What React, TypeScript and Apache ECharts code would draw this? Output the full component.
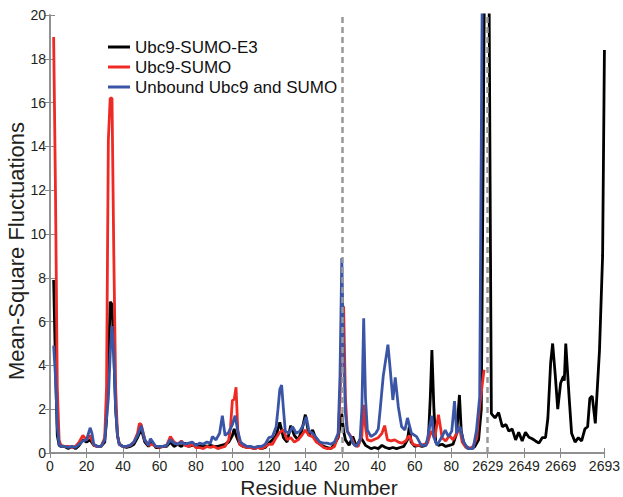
import React, { useEffect, useRef } from "react";
import * as echarts from "echarts";

// x positions are concatenated residue indices (Ubc9 0-158, SUMO 160-238, E3 240-304)
const xTickPositions = [0, 20, 40, 60, 80, 100, 120, 140, 160, 180, 200, 220, 240, 260, 280, 304];
const xTickLabels = ["0", "20", "40", "60", "80", "100", "120", "140", "20", "40", "60", "80", "2629", "2649", "2669", "2693"];
const dividerPositions = [160, 240];
const seriesNames = ["Ubc9-SUMO-E3", "Ubc9-SUMO", "Unbound Ubc9 and SUMO"];

const e3Data = [
  [2, 7.9], [3, 4], [4, 0.8], [5, 0.35], [6, 0.3], [8, 0.3], [10, 0.2], [12, 0.3], [14, 0.2], [16, 0.35],
  [18, 0.6], [20, 0.5], [22, 0.6], [24, 0.35], [26, 0.3], [28, 0.3], [30, 0.5], [31, 1.5], [32, 4.0], [33, 6.9],
  [34, 6.8], [35, 4.5], [36, 2.0], [37, 0.8], [38, 0.4], [40, 0.3], [42, 0.25], [44, 0.3], [46, 0.4], [48, 0.7],
  [50, 1.1], [52, 0.5], [54, 0.3], [56, 0.5], [58, 0.25], [60, 0.25], [62, 0.3], [64, 0.3], [66, 0.5], [68, 0.3],
  [70, 0.4], [72, 0.3], [74, 0.45], [76, 0.3], [78, 0.35], [80, 0.4], [82, 0.3], [84, 0.35], [86, 0.3], [88, 0.35],
  [90, 0.3], [92, 0.3], [94, 0.35], [96, 0.4], [98, 0.5], [100, 0.8], [101, 1.1], [102, 0.8], [104, 0.4], [106, 0.3],
  [108, 0.25], [110, 0.25], [112, 0.2], [114, 0.25], [116, 0.2], [118, 0.25], [120, 0.45], [122, 0.6], [124, 0.8], [126, 1.4],
  [128, 0.7], [130, 0.5], [132, 1.25], [134, 0.8], [136, 0.6], [138, 1.0], [140, 1.75], [142, 0.8], [144, 1.05], [146, 0.6],
  [148, 0.4], [150, 0.3], [152, 0.25], [154, 0.2], [156, 0.4], [158, 0.7], [159, 1.2], [160, 1.8], [161, 1.0], [162, 0.6],
  [164, 0.35], [166, 0.75], [168, 0.3], [170.5, 0.7], [173, 0.35], [176, 0.2], [178, 0.25], [180, 0.2], [182, 0.35], [184, 0.25],
  [186, 0.2], [188, 0.25], [190, 0.2], [192, 0.25], [194, 0.3], [196, 0.6], [197, 1.2], [198, 0.5], [200, 0.3], [202, 0.35],
  [204, 0.3], [206, 0.35], [207.5, 0.7], [208.5, 2.5], [209.4, 4.7], [210.5, 2.0], [211.5, 0.5], [213, 0.35], [215, 0.4], [217, 0.3],
  [219, 0.35], [221, 0.4], [223, 0.9], [224.5, 2.65], [225.5, 1.0], [227, 0.4], [229, 0.25], [231, 0.2], [233, 0.3], [235, 0.6],
  [236.5, 2.0], [238.5, 25], [240.5, 25], [242, 1.8], [244, 1.6], [246, 1.85], [248, 1.2], [250, 1.3], [251.6, 1.0], [253.4, 1.1],
  [255.3, 0.6], [257, 0.95], [258.9, 0.55], [260.7, 0.95], [262.6, 0.72], [264.4, 0.65], [266.2, 0.55], [268.1, 0.45], [269.9, 0.7], [271.7, 0.7],
  [273, 1.6], [274.5, 4.1], [275.6, 5.0], [277, 3.6], [278.4, 2.0], [280, 3.2], [281.5, 3.5], [282, 3.3], [282.8, 5.0], [284.6, 2.6],
  [286, 0.9], [287.9, 0.5], [289.7, 0.7], [291.5, 0.55], [293.3, 1.1], [294.8, 1.2], [296, 2.5], [297.3, 2.6], [299, 1.35], [301.3, 4.7],
  [303, 9], [304, 18.4],
];

const sumoData = [
  [2, 19], [3, 12], [4, 3], [5, 0.6], [6, 0.35], [8, 0.3], [10, 0.3], [12, 0.25], [14, 0.3], [16, 0.5],
  [18, 0.8], [20, 0.6], [22, 0.8], [24, 0.35], [26, 0.3], [28, 0.3], [30, 0.7], [31, 3], [32, 14.3], [33, 16.2],
  [34, 16.2], [35, 9], [36, 3], [37, 0.8], [38, 0.4], [40, 0.3], [42, 0.3], [44, 0.35], [46, 0.5], [48, 0.9],
  [49, 1.35], [50, 1.3], [52, 0.6], [54, 0.35], [56, 0.4], [58, 0.3], [60, 0.25], [62, 0.3], [64, 0.35], [66, 0.75],
  [68, 0.5], [70, 0.4], [72, 0.55], [74, 0.35], [76, 0.3], [78, 0.4], [80, 0.25], [82, 0.25], [84, 0.2], [86, 0.3],
  [88, 0.25], [90, 0.3], [92, 0.2], [94, 0.25], [96, 0.3], [98, 0.6], [99, 1.2], [100, 2.4], [101, 2.45], [102, 3.0],
  [103, 1.0], [104, 0.4], [106, 0.3], [108, 0.25], [110, 0.25], [112, 0.2], [114, 0.25], [116, 0.2], [118, 0.3], [120, 0.4],
  [122, 0.4], [124, 0.7], [126, 0.95], [128, 1.05], [130, 0.6], [132, 0.7], [134, 0.5], [136, 0.6], [138, 0.8], [140, 1.05],
  [142, 0.8], [144, 0.75], [146, 0.5], [148, 0.4], [150, 0.25], [152, 0.2], [154, 0.2], [156, 0.3], [158, 0.8], [159, 2.5],
  [160, 5.0], [161, 6.7], [162, 2.5], [163, 1.0], [165, 0.75], [167, 0.35], [169, 0.3], [171, 0.8], [172, 2.2], [173, 1.2],
  [174, 0.6], [176, 0.55], [178, 0.63], [180, 0.7], [182, 0.9], [183.5, 1.25], [185, 0.6], [187, 0.55], [189, 0.6], [191, 0.5],
  [193, 0.45], [195, 0.55], [197, 0.8], [199, 0.4], [201, 0.35], [203, 0.35], [205, 0.4], [207, 0.45], [209, 1.0], [211, 0.7],
  [213, 1.75], [215, 0.7], [217, 0.55], [219, 0.8], [221, 0.6], [223, 0.9], [224.5, 1.2], [226, 0.5], [228, 0.25], [230, 0.2],
  [232, 0.3], [234, 0.7], [235.5, 2.1], [238, 3.8],
];

const unboundData = [
  [2, 4.9], [3, 3.5], [4, 1.2], [5, 0.4], [6, 0.3], [8, 0.3], [10, 0.25], [12, 0.3], [14, 0.25], [16, 0.4],
  [18, 0.55], [20, 0.6], [22, 1.15], [23, 0.9], [24, 0.4], [26, 0.3], [28, 0.3], [30, 0.6], [32, 2.5], [33, 4.5],
  [34, 5.8], [35, 4.5], [36, 2.0], [37, 0.8], [38, 0.4], [40, 0.3], [42, 0.3], [44, 0.35], [46, 0.5], [48, 0.8],
  [50, 1.25], [52, 0.6], [54, 0.35], [55, 0.65], [56, 0.55], [58, 0.3], [60, 0.3], [62, 0.3], [64, 0.35], [66, 0.6],
  [68, 0.45], [70, 0.4], [72, 0.5], [74, 0.4], [76, 0.45], [78, 0.5], [80, 0.35], [82, 0.45], [84, 0.4], [86, 0.5],
  [88, 0.45], [89, 0.75], [91, 0.6], [93, 0.9], [94.5, 1.7], [96, 0.8], [98, 0.95], [100, 1.3], [101.5, 1.7], [103, 1.0],
  [104.5, 0.5], [106, 0.4], [108, 0.3], [110, 0.3], [112, 0.25], [114, 0.3], [116, 0.3], [118, 0.4], [120, 0.7], [122, 0.75],
  [124, 1.2], [125, 2.0], [126, 2.9], [127, 3.1], [128, 2.0], [129, 1.0], [131, 0.9], [133, 1.2], [135, 0.9], [137, 1.0],
  [139, 1.3], [140.5, 1.65], [142, 1.0], [144, 0.9], [146, 0.7], [148, 0.5], [150, 0.45], [152, 0.45], [154, 0.4], [156, 0.5],
  [158, 0.9], [159, 3.5], [160, 8.9], [161, 4.5], [162, 1.8], [163, 1.0], [164.7, 0.75], [166, 0.45], [168, 0.3], [170, 0.6],
  [171, 2.0], [172, 6.15], [173, 2.5], [174, 1.05], [176, 0.75], [178.6, 0.9], [180, 1.1], [181, 1.95], [182.7, 3.5], [185.3, 4.95],
  [186.4, 3.95], [188, 2.42], [189.3, 3.45], [191, 2.1], [192.8, 1.2], [194.6, 1.05], [196, 1.6], [198.2, 0.9], [201, 0.75], [203.6, 0.35],
  [206.3, 0.35], [208.4, 1.3], [209.4, 1.7], [210.3, 0.75], [212.2, 0.35], [215, 0.75], [216.7, 1.05], [218.5, 0.75], [220.3, 1.0], [221.8, 2.37],
  [223, 0.9], [224.8, 1.2], [226.6, 0.55], [229, 0.2], [232, 0.2], [233.8, 1.0], [235.6, 2.55], [237.3, 25],
];

const seriesData = [e3Data, sumoData, unboundData];
const seriesColors = ["#000000", "#ee2a24", "#3a55a6"];

const FONT = "'Liberation Sans', Arial, Helvetica, sans-serif";
const AXIS_GRAY = "#8a8a8a";
const TEXT = "#231f20";

export default function App() {
  const ref = useRef<HTMLDivElement>(null);
  useEffect(() => {
    if (!ref.current) return;
    const chart = echarts.init(ref.current, null, { renderer: "svg" });
    const labelFor = (v: number) => {
      const i = xTickPositions.indexOf(v);
      return i >= 0 ? xTickLabels[i] : "";
    };
    const xCommon = {
      type: "value",
      min: 0,
      max: 304,
      splitLine: { show: false },
      axisLine: { show: true, lineStyle: { color: AXIS_GRAY, width: 1.5 } },
      axisTick: {
        show: true,
        inside: true,
        length: 5,
        customValues: xTickPositions,
        lineStyle: { color: AXIS_GRAY, width: 1 },
      },
    };
    const yCommon = {
      type: "value",
      min: 0,
      max: 20,
      interval: 2,
      splitLine: { show: false },
      axisLine: { show: true, lineStyle: { color: AXIS_GRAY, width: 1.5 } },
      axisTick: { show: true, inside: true, length: 5, lineStyle: { color: AXIS_GRAY, width: 1 } },
    };
    const series: any[] = seriesData.map((d, i) => ({
      name: seriesNames[i],
      type: "line",
      data: d,
      showSymbol: false,
      symbol: "none",
      clip: true,
      lineStyle: { color: seriesColors[i], width: 2.8 },
      itemStyle: { color: seriesColors[i] },
      z: 2 + i,
    }));
    series.push({
      type: "line",
      data: [],
      z: 10,
      silent: true,
      markLine: {
        silent: true,
        symbol: "none",
        label: { show: false },
        lineStyle: { color: "#999999", width: 2.5, type: [6, 4] },
        data: dividerPositions.map((x) => ({ xAxis: x })),
      },
    });
    chart.setOption({
      animation: false,
      backgroundColor: "#ffffff",
      grid: { left: 50, right: 15, top: 15, bottom: 44, containLabel: false },
      legend: {
        show: true,
        orient: "vertical",
        left: 103,
        top: 32,
        itemGap: 0,
        itemWidth: 22,
        itemHeight: 3,
        icon: "rect",
        data: seriesNames,
        textStyle: { fontSize: 17, fontFamily: FONT, color: "#111", lineHeight: 20 },
      },
      xAxis: [
        {
          ...xCommon,
          position: "bottom",
          axisLabel: {
            show: true,
            customValues: xTickPositions,
            formatter: (v: number) => labelFor(v),
            fontSize: 14,
            fontFamily: FONT,
            color: TEXT,
            margin: 6,
          },
        },
        { ...xCommon, position: "top", axisLabel: { show: false } },
      ],
      yAxis: [
        {
          ...yCommon,
          position: "left",
          axisLabel: { show: true, fontSize: 14, fontFamily: FONT, color: TEXT, margin: 4 },
        },
        { ...yCommon, position: "right", axisLabel: { show: false } },
      ],
      graphic: [
        {
          type: "text",
          x: 319,
          y: 487,
          style: {
            text: "Residue Number",
            fontSize: 21,
            fontFamily: FONT,
            fill: TEXT,
            align: "center",
            verticalAlign: "middle",
          },
        },
        {
          type: "text",
          x: 16,
          y: 251,
          rotation: Math.PI / 2,
          style: {
            text: "Mean-Square Fluctuations",
            fontSize: 22,
            fontFamily: FONT,
            fill: TEXT,
            align: "center",
            verticalAlign: "middle",
          },
        },
      ],
      series,
    });
    return () => chart.dispose();
  }, []);
  return (
    <div
      ref={ref}
      style={{ position: "absolute", left: 0, top: 0, width: 623, height: 497, background: "#fff" }}
    />
  );
}
